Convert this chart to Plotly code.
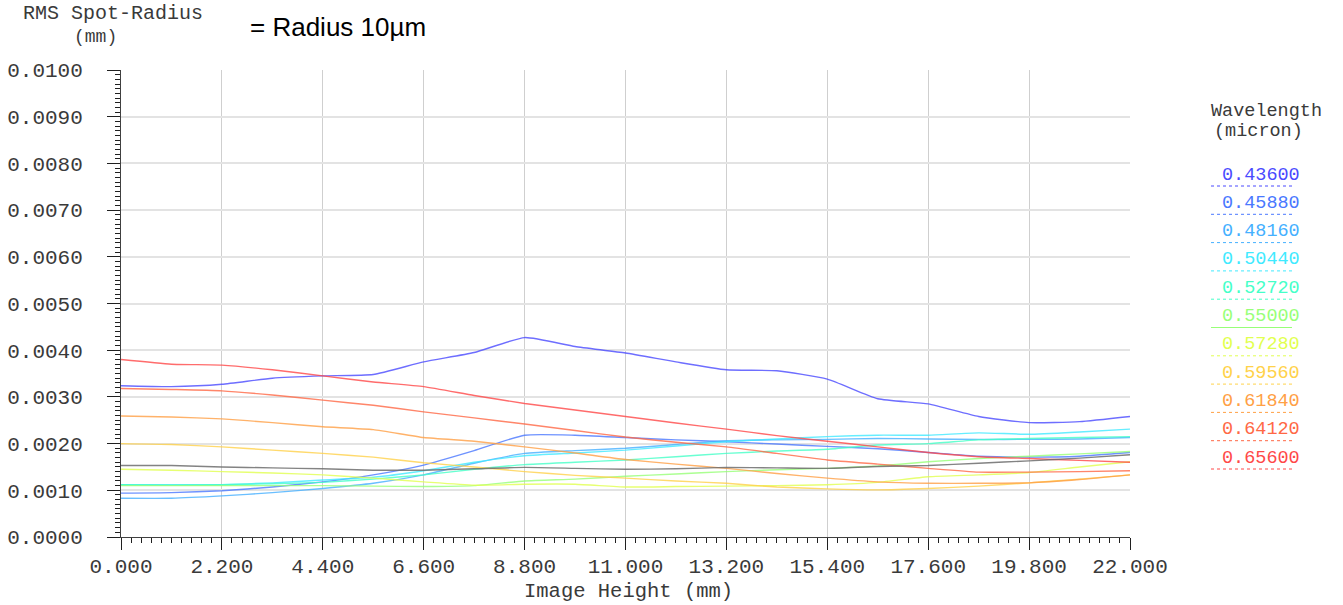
import plotly.graph_objects as go

# ---------------- data ----------------
image_height_mm = [0.0, 1.1, 2.2, 3.3, 4.4, 5.5, 6.6, 7.7, 8.8, 9.9, 11.0,
                   12.1, 13.2, 14.3, 15.4, 16.5, 17.6, 18.7, 19.8, 20.9, 22.0]

wavelengths = ["0.43600", "0.45880", "0.48160", "0.50440", "0.52720", "0.55000",
               "0.57280", "0.59560", "0.61840", "0.64120", "0.65600"]

wl_colors = ["#4a4aff", "#4a78ff", "#45b0ff", "#40eaff", "#45ffc8", "#98ff78",
             "#e2ff50", "#ffd24a", "#ffa045", "#ff6845", "#ff4848"]

rms_0436 = [0.00324, 0.00322, 0.00327, 0.00340, 0.00345, 0.00348, 0.00375, 0.00395, 0.00427, 0.00408, 0.00394,
            0.00375, 0.00358, 0.00356, 0.00338, 0.00296, 0.00285, 0.00258, 0.00245, 0.00247, 0.00258]
rms_04588 = [0.00094, 0.00095, 0.00099, 0.00107, 0.00118, 0.00133, 0.00154, 0.00185, 0.00218, 0.00218, 0.00213,
             0.00208, 0.00204, 0.00199, 0.00194, 0.00189, 0.00181, 0.00173, 0.00171, 0.00173, 0.00181]
rms_04816 = [0.00083, 0.00083, 0.00088, 0.00095, 0.00104, 0.00115, 0.00133, 0.00158, 0.00179, 0.00185, 0.00190,
             0.00198, 0.00206, 0.00208, 0.00209, 0.00211, 0.00210, 0.00209, 0.00209, 0.00210, 0.00213]
rms_05044 = [0.00112, 0.00112, 0.00112, 0.00116, 0.00122, 0.00128, 0.00142, 0.00160, 0.00174, 0.00180, 0.00186,
             0.00195, 0.00204, 0.00210, 0.00215, 0.00218, 0.00218, 0.00223, 0.00220, 0.00225, 0.00231]
rms_05272 = [0.00112, 0.00111, 0.00112, 0.00114, 0.00117, 0.00124, 0.00133, 0.00145, 0.00155, 0.00160, 0.00165,
             0.00172, 0.00179, 0.00184, 0.00188, 0.00197, 0.00200, 0.00208, 0.00211, 0.00213, 0.00215]
rms_0550 = [0.00110, 0.00110, 0.00110, 0.00110, 0.00110, 0.00109, 0.00108, 0.00110, 0.00120, 0.00124, 0.00130,
            0.00135, 0.00140, 0.00144, 0.00147, 0.00152, 0.00161, 0.00168, 0.00173, 0.00178, 0.00183]
rms_05728 = [0.00145, 0.00143, 0.00140, 0.00137, 0.00133, 0.00126, 0.00118, 0.00111, 0.00113, 0.00113, 0.00107,
             0.00108, 0.00109, 0.00110, 0.00112, 0.00117, 0.00129, 0.00133, 0.00138, 0.00150, 0.00161]
rms_05956 = [0.00200, 0.00198, 0.00193, 0.00186, 0.00179, 0.00171, 0.00159, 0.00150, 0.00140, 0.00132, 0.00126,
             0.00120, 0.00115, 0.00107, 0.00103, 0.00101, 0.00104, 0.00109, 0.00116, 0.00124, 0.00133]
rms_06184 = [0.00259, 0.00257, 0.00253, 0.00245, 0.00236, 0.00230, 0.00213, 0.00205, 0.00193, 0.00180, 0.00166,
             0.00156, 0.00147, 0.00136, 0.00126, 0.00118, 0.00115, 0.00115, 0.00116, 0.00123, 0.00133]
rms_06412 = [0.00318, 0.00316, 0.00313, 0.00304, 0.00293, 0.00282, 0.00268, 0.00255, 0.00242, 0.00228, 0.00214,
             0.00203, 0.00193, 0.00179, 0.00165, 0.00156, 0.00147, 0.00139, 0.00139, 0.00140, 0.00142]
rms_0656 = [0.00380, 0.00370, 0.00368, 0.00358, 0.00345, 0.00332, 0.00322, 0.00303, 0.00286, 0.00272, 0.00258,
            0.00244, 0.00231, 0.00217, 0.00205, 0.00193, 0.00181, 0.00172, 0.00168, 0.00164, 0.00160]
rms_poly = [0.00153, 0.00153, 0.00150, 0.00148, 0.00146, 0.00143, 0.00143, 0.00146, 0.00149, 0.00147, 0.00145,
            0.00146, 0.00149, 0.00148, 0.00147, 0.00151, 0.00153, 0.00158, 0.00163, 0.00169, 0.00176]

series = [rms_0436, rms_04588, rms_04816, rms_05044, rms_05272, rms_0550,
          rms_05728, rms_05956, rms_06184, rms_06412, rms_0656]

x_tickvals = [0.0, 2.2, 4.4, 6.6, 8.8, 11.0, 13.2, 15.4, 17.6, 19.8, 22.0]
x_ticktext = ["0.000", "2.200", "4.400", "6.600", "8.800", "11.000",
              "13.200", "15.400", "17.600", "19.800", "22.000"]
y_tickvals = [0.0, 0.001, 0.002, 0.003, 0.004, 0.005, 0.006, 0.007, 0.008, 0.009, 0.010]
y_ticktext = ["0.0000", "0.0010", "0.0020", "0.0030", "0.0040", "0.0050",
              "0.0060", "0.0070", "0.0080", "0.0090", "0.0100"]

# ---------------- figure ----------------
W, H = 1343, 605
L, R, T, B = 121, 213, 70, 68
MONO = "Courier New, Liberation Mono, monospace"
TXT = "#3a3a3a"

fig = go.Figure()
for name, col, ys in zip(wavelengths, wl_colors, series):
    fig.add_trace(go.Scatter(x=image_height_mm, y=ys, mode="lines", name=name,
                             line=dict(color=col, width=1.4, shape="spline", smoothing=0.5),
                             opacity=0.8, showlegend=False))
fig.add_trace(go.Scatter(x=image_height_mm, y=rms_poly, mode="lines", name="Polychromatic",
                         line=dict(color="#6e6e6e", width=1.4, shape="spline", smoothing=0.5),
                         opacity=0.85, showlegend=False))

fig.update_layout(
    width=W, height=H,
    margin=dict(l=L, r=R, t=T, b=B, pad=0, autoexpand=False),
    paper_bgcolor="white", plot_bgcolor="white",
    font=dict(family=MONO, color=TXT),
    xaxis=dict(range=[0, 22], tickvals=x_tickvals, ticktext=x_ticktext, automargin=False,
               showgrid=True, gridcolor="#cfcfcf", gridwidth=1,
               showline=True, linecolor="#404040", linewidth=1,
               ticks="outside", ticklen=12, tickcolor="#202020", tickwidth=1,
               ticklabelstandoff=-2,
               tickfont=dict(family=MONO, size=21, color=TXT),
               minor=dict(dtick=0.22, tick0=0, ticks="outside", ticklen=5,
                          tickcolor="#202020", tickwidth=1, showgrid=False),
               zeroline=False),
    yaxis=dict(range=[0, 0.01], tickvals=y_tickvals, ticktext=y_ticktext, automargin=False,
               showgrid=True, gridcolor="#e3e3e3", gridwidth=1.5,
               showline=True, linecolor="#404040", linewidth=1,
               ticks="outside", ticklen=13, tickcolor="#202020", tickwidth=1,
               ticklabelstandoff=20,
               tickfont=dict(family=MONO, size=21, color=TXT),
               minor=dict(dtick=0.0001, tick0=0, ticks="outside", ticklen=5,
                          tickcolor="#202020", tickwidth=1, showgrid=False),
               zeroline=False),
)

def px_x(px):
    return (px - L) / (W - L - R)

def px_y(py):
    return (H - B - py) / (H - T - B)

def label(text, cx, cy, size, color=TXT, family=MONO):
    return dict(text=text, x=px_x(cx), y=px_y(cy), xref="paper", yref="paper",
                xanchor="center", yanchor="middle", showarrow=False,
                font=dict(family=family, size=size, color=color))

ann = [
    label("RMS Spot-Radius", 113, 14, 20),
    label("(mm)", 95, 37, 18),
    label("= Radius 10µm", 338, 27, 26, color="black", family="Arial, Liberation Sans, sans-serif"),
    label("Wavelength", 1266, 111, 18.5),
    label("(micron)", 1258, 131, 18.5),
    label("Image Height (mm)", 628, 591, 20.5),
]

shapes = []
for i, (name, col) in enumerate(zip(wavelengths, wl_colors)):
    yc = 175 + i * 28.3
    ann.append(label(name, 1261, yc, 18.5, color=col))
    shapes.append(dict(type="line", xref="paper", yref="paper",
                       x0=px_x(1211), x1=px_x(1292), y0=px_y(yc + 11), y1=px_y(yc + 11),
                       line=dict(color=col, width=1, dash="dot" if name != "0.55000" else "solid")))

fig.update_layout(annotations=ann, shapes=shapes)
fig.write_html("out.html", config={"displayModeBar": False},
               post_script="document.body.style.margin='0px';document.body.style.padding='0px';")
